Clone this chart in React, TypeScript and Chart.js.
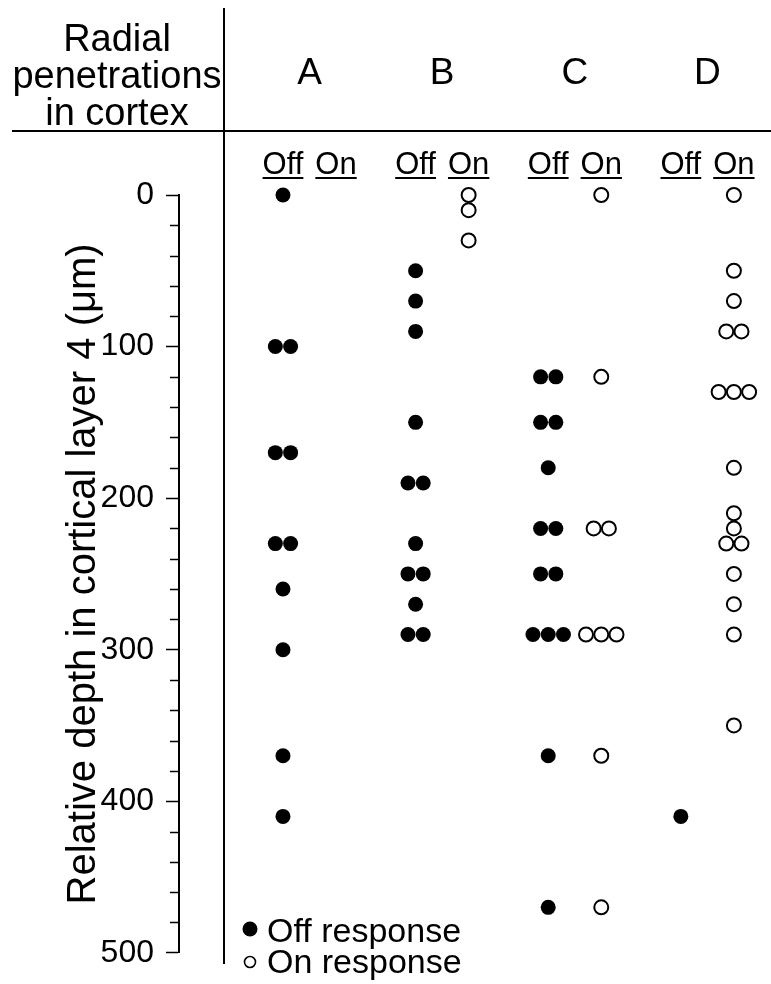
import React, { useEffect, useRef } from 'react';
import { Chart, registerables } from 'chart.js';

Chart.register(...registerables);

// ---- Data (relative depth in µm) ----
const groups = ['A', 'B', 'C', 'D'];
const offA = [0, 100, 100, 170, 170, 230, 230, 260, 300, 370, 410];
const onA: number[] = [];
const offB = [50, 70, 90, 150, 190, 190, 230, 250, 250, 270, 290, 290];
const onB = [0, 10, 30];
const offC = [120, 120, 150, 150, 180, 220, 220, 250, 250, 290, 290, 290, 370, 470];
const onC = [0, 120, 220, 220, 290, 290, 290, 370, 470];
const offD = [410];
const onD = [0, 50, 70, 90, 90, 130, 130, 130, 180, 210, 220, 230, 230, 250, 270, 290, 350];
const offSets = [offA, offB, offC, offD];
const onSets = [onA, onB, onC, onD];
const yMin = 0;
const yMax = 500;
const yMajorStep = 100;
const yMinorStep = 20;
const yTitle = 'Relative depth in cortical layer 4 (\u03bcm)';
const headerLines = ['Radial', 'penetrations', 'in cortex'];
const subLabels = ['Off', 'On'];
const legendLabels = ['Off response', 'On response'];

const FONT = '"Liberation Sans", Arial, Helvetica, sans-serif';
const SUB_OFFSET = 0.2; // off/on sub-column offset in group units
const DUP_STEP = 0.115; // horizontal spread of coincident points

function place(values: number[], center: number) {
  const counts: Record<number, number> = {};
  values.forEach((v) => (counts[v] = (counts[v] || 0) + 1));
  const seen: Record<number, number> = {};
  return values.map((v) => {
    const n = counts[v];
    const i = (seen[v] = (seen[v] ?? -1) + 1);
    return { x: center + (i - (n - 1) / 2) * DUP_STEP, y: v };
  });
}

const offPoints = offSets.flatMap((vals, g) => place(vals, g - SUB_OFFSET));
const onPoints = onSets.flatMap((vals, g) => place(vals, g + SUB_OFFSET));

const decorPlugin = {
  id: 'decor',
  afterDraw(chart: any) {
    const { ctx, chartArea } = chart;
    const xs = chart.scales.x;
    const ys = chart.scales.y;
    ctx.save();
    ctx.fillStyle = '#000';
    ctx.strokeStyle = '#000';

    // minor ticks
    ctx.lineWidth = 1.5;
    for (let v = yMin; v <= yMax; v += yMinorStep) {
      if (v % yMajorStep === 0) continue;
      const py = Math.round(ys.getPixelForValue(v)) + 0.5;
      ctx.beginPath();
      ctx.moveTo(chartArea.left - 9, py);
      ctx.lineTo(chartArea.left, py);
      ctx.stroke();
    }

    // frame lines
    ctx.lineWidth = 2;
    ctx.beginPath();
    ctx.moveTo(224, 8);
    ctx.lineTo(224, 964);
    ctx.stroke();
    ctx.beginPath();
    ctx.moveTo(12, 131);
    ctx.lineTo(771, 131);
    ctx.stroke();

    // top-left header
    ctx.font = `38px ${FONT}`;
    ctx.textAlign = 'center';
    ctx.textBaseline = 'alphabetic';
    headerLines.forEach((t, i) => ctx.fillText(t, 117, 51 + i * 37));

    // group letters
    ctx.font = `37px ${FONT}`;
    groups.forEach((g, i) => {
      ctx.fillText(g, xs.getPixelForValue(i), 84);
    });

    // Off / On sub labels with underline
    ctx.font = `31px ${FONT}`;
    groups.forEach((_, i) => {
      subLabels.forEach((s, k) => {
        const cx = xs.getPixelForValue(i + (k === 0 ? -SUB_OFFSET : SUB_OFFSET));
        ctx.fillText(s, cx, 174);
        const w = ctx.measureText(s).width;
        ctx.fillRect(cx - w / 2, 177, w, 2);
      });
    });

    // legend
    ctx.textAlign = 'left';
    ctx.font = `34px ${FONT}`;
    ctx.beginPath();
    ctx.arc(250, 929, 7.5, 0, Math.PI * 2);
    ctx.fill();
    ctx.fillText(legendLabels[0], 267, 942);
    ctx.lineWidth = 1.6;
    ctx.beginPath();
    ctx.arc(250, 962, 5.5, 0, Math.PI * 2);
    ctx.stroke();
    ctx.fillText(legendLabels[1], 267, 973);
    ctx.restore();
  },
};

export default function App() {
  const ref = useRef<HTMLCanvasElement | null>(null);
  useEffect(() => {
    if (!ref.current) return;
    const chart = new Chart(ref.current, {
      type: 'scatter',
      data: {
        datasets: [
          {
            label: legendLabels[0],
            data: offPoints,
            pointRadius: 7.5,
            pointBackgroundColor: '#000',
            pointBorderWidth: 0,
            pointBorderColor: '#000',
            clip: false,
          } as any,
          {
            label: legendLabels[1],
            data: onPoints,
            pointRadius: 7,
            pointBackgroundColor: '#fff',
            pointBorderColor: '#000',
            pointBorderWidth: 2,
            clip: false,
          } as any,
        ],
      },
      options: {
        animation: false,
        responsive: false,
        events: [],
        layout: { padding: { left: 0, right: 0, top: 195, bottom: 31 } },
        plugins: { legend: { display: false }, tooltip: { enabled: false } },
        scales: {
          x: {
            type: 'linear',
            display: false,
            min: -0.984,
            max: 3.412,
          },
          y: {
            type: 'linear',
            reverse: true,
            min: yMin,
            max: yMax,
            afterFit: (s: any) => {
              s.width = 179;
            },
            border: { display: true, color: '#000', width: 2 },
            grid: {
              drawOnChartArea: false,
              drawTicks: true,
              tickLength: 13,
              tickWidth: 1.5,
              tickColor: (c: any) => (c.tick && c.tick.value % yMajorStep === 0 ? '#000' : 'rgba(0,0,0,0)'),
            },
            ticks: {
              stepSize: yMinorStep,
              autoSkip: false,
              padding: 12,
              color: '#000',
              font: { family: FONT, size: 32 },
              callback: (v: any) => (Number(v) % yMajorStep === 0 ? String(v) : ''),
            },
            title: {
              display: true,
              text: yTitle,
              color: '#000',
              font: { family: FONT, size: 40 },
              padding: { top: 60, bottom: 0 },
            },
          },
        },
      },
      plugins: [decorPlugin],
    });
    return () => chart.destroy();
  }, []);
  return (
    <div style={{ position: 'absolute', left: 0, top: 0, width: 771, height: 984, background: '#fff' }}>
      <canvas ref={ref} width={771} height={984} style={{ width: 771, height: 984, display: 'block' }} />
    </div>
  );
}
